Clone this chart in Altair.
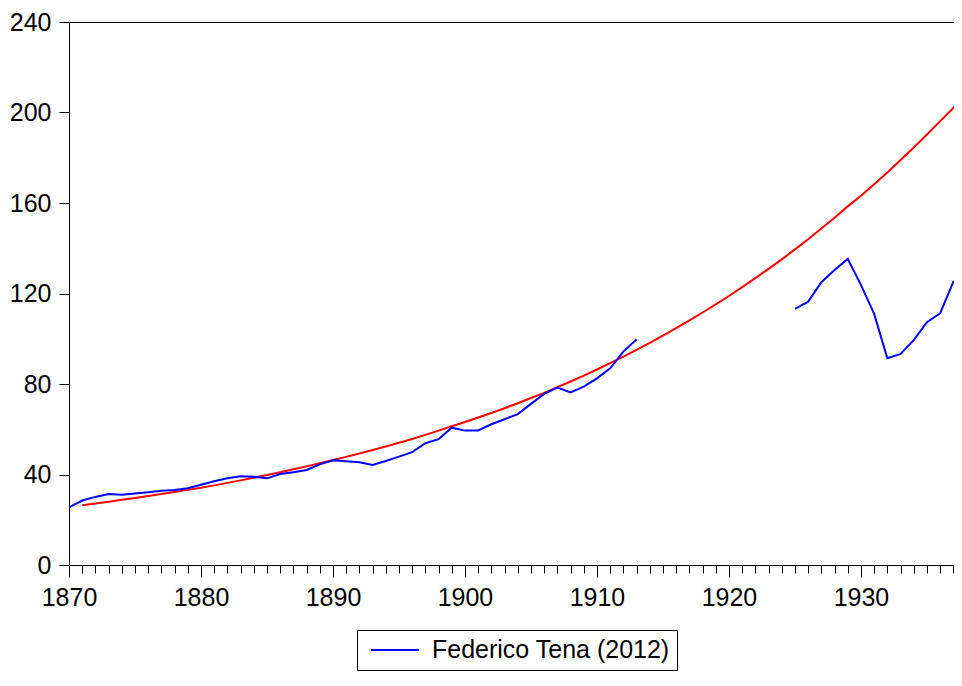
import altair as alt
import pandas as pd

# ---- data ----
series_name = "Federico Tena (2012)"

blue_years_a = list(range(1870, 1914))
blue_vals_a = [25.5, 28.5, 30.1, 31.4, 31.1, 31.6, 32.2, 32.8, 33.1, 33.9,
               35.5, 37.0, 38.3, 39.2, 39.0, 38.3, 40.2, 41.0, 42.0, 44.5,
               46.3, 45.9, 45.4, 44.2, 46.0, 47.9, 49.9, 53.8, 55.6, 60.7,
               59.4, 59.5, 62.2, 64.4, 66.7, 71.2, 75.6, 78.4, 76.3, 78.8,
               82.5, 86.9, 94.3, 99.8]

blue_years_b = list(range(1925, 1939))
blue_vals_b = [113.2, 116.4, 125.0, 130.4, 135.3, 123.8, 111.0, 91.4, 93.3,
               99.4, 107.3, 111.2, 125.2, 125.5]

trend_years = list(range(1871, 1939))
trend_vals = [26.4, 27.2, 28.0, 28.8, 29.6, 30.5, 31.4, 32.3, 33.2,
              34.1, 35.2, 36.3, 37.4, 38.6, 39.8, 41.0, 42.3, 43.6, 45.0,
              46.4, 47.8, 49.3, 50.8, 52.4, 54.0, 55.7, 57.5, 59.4, 61.3,
              63.2, 65.2, 67.2, 69.3, 71.5, 73.8, 76.1, 78.6, 81.1, 83.7,
              86.4, 89.2, 92.1, 95.1, 98.2, 101.4, 104.7, 108.1, 111.6, 115.2,
              118.9, 122.8, 126.8, 130.9, 135.1, 139.5, 144.0, 148.7, 153.5, 158.5,
              163.2, 168.3, 173.5, 179.0, 184.5, 190.3, 196.2, 202.0, 208.5]

x_ticks = list(range(1870, 1938))
y_ticks = [0, 40, 80, 120, 160, 200, 240]

FONT = "Liberation Sans"

blue_df = pd.DataFrame({
    "year": blue_years_a + blue_years_b,
    "value": blue_vals_a + blue_vals_b,
    "seg": ["a"] * len(blue_years_a) + ["b"] * len(blue_years_b),
    "series": series_name,
})
trend_df = pd.DataFrame({"year": trend_years, "value": trend_vals})

x_enc = alt.X(
    "year:Q",
    scale=alt.Scale(domain=[1870, 1937.05], nice=False, zero=False),
    axis=alt.Axis(
        values=x_ticks,
        labelExpr="datum.value % 10 === 0 ? datum.value : ''",
        tickSize={"condition": {"test": "datum.value % 10 === 0", "value": 12}, "value": 8},
        labelPadding=8,
        labelOverlap=False,
        labelFlush=False,
        labelFontSize=25,
        labelFont=FONT,
        labelColor="black",
        tickColor="black",
        domainColor="black",
        grid=False,
        title=None,
    ),
)
y_enc = alt.Y(
    "value:Q",
    scale=alt.Scale(domain=[0, 240], nice=False),
    axis=alt.Axis(
        values=y_ticks,
        tickSize=10,
        labelPadding=8,
        labelFontSize=25,
        labelFont=FONT,
        labelColor="black",
        tickColor="black",
        domainColor="black",
        grid=False,
        title=None,
    ),
)

trend = alt.Chart(trend_df).mark_line(color="#ff0000", strokeWidth=2, clip=True).encode(
    x=x_enc, y=y_enc
)

blue = alt.Chart(blue_df).mark_line(strokeWidth=2, clip=True).encode(
    x=x_enc,
    y=y_enc,
    detail="seg:N",
    color=alt.Color(
        "series:N",
        scale=alt.Scale(domain=[series_name], range=["#0000ff"]),
        legend=alt.Legend(
            title=None,
            orient="none",
            legendX=288,
            legendY=608,
            strokeColor="black",
            fillColor="white",
            padding=7,
            symbolType="M-2,0H2",
            symbolSize=576,
            symbolStrokeWidth=2,
            symbolOffset=18,
            labelOffset=24,
            labelFontSize=25,
            labelLimit=500,
            labelFont=FONT,
            labelColor="black",
        ),
    ),
)

chart = alt.layer(trend, blue).properties(
    width=885,
    height=543,
    autosize=alt.AutoSizeParams(type="none"),
    padding={"left": 61, "top": 14, "right": 0, "bottom": 109},
    background="white",
).configure_view(
    stroke="black", strokeWidth=1
)

chart.save("out.html", embed_options={"renderer": "svg", "actions": False})
